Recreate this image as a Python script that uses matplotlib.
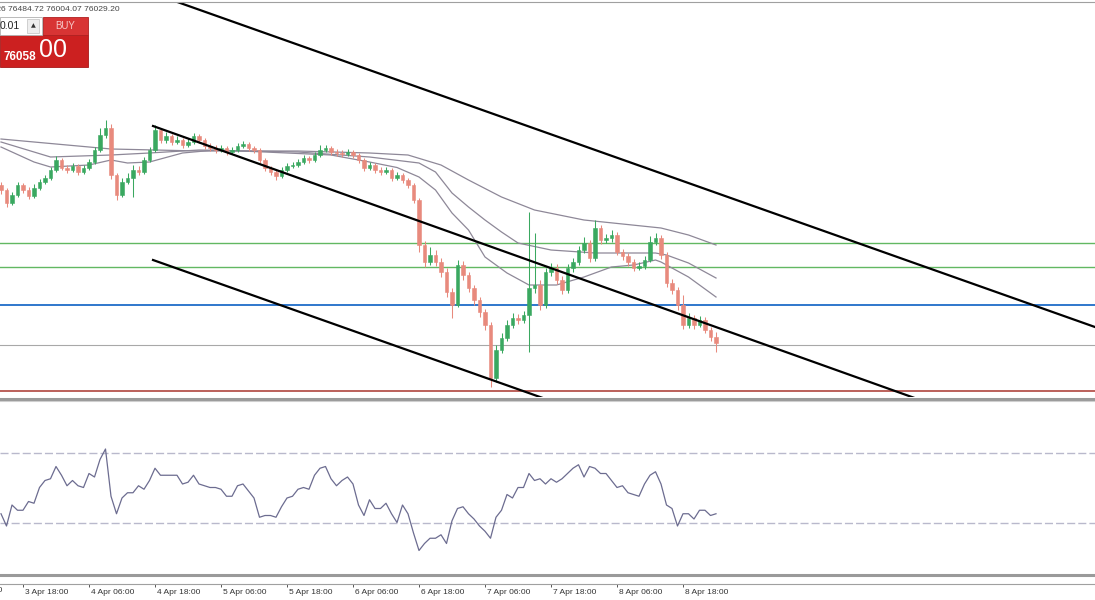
import matplotlib.pyplot as plt
import matplotlib.transforms as mtransforms
from matplotlib.patches import Rectangle
from matplotlib.lines import Line2D

plt.rcParams['font.family'] = ['Liberation Sans', 'DejaVu Sans']

# BTCUSD H1 bars, 3 Apr 14:00 -> 9 Apr 00:00 (bar index 0..130)
opens = [82350, 82150, 81630, 81950, 82350, 82150, 81910, 82230, 82470, 82630,
         82950, 83350, 83030, 82950, 83110, 82870, 83030, 83270, 83750, 84350,
         84630, 82750, 81950, 82470, 82630, 82950, 82870, 83350, 83750, 84550,
         84150, 84310, 84070, 84150, 83950, 84070, 84310, 84150, 83910, 83830,
         83750, 83830, 83670, 83750, 83910, 83990, 83830, 83750, 83350, 83030,
         82870, 82710, 82950, 83110, 83150, 83270, 83430, 83350, 83550, 83750,
         83830, 83670, 83630, 83590, 83670, 83550, 83350, 83030, 83150, 82950,
         82870, 82950, 82630, 82750, 82550, 82350, 81750, 79950, 79270, 79550,
         79270, 78870, 78070, 77550, 79150, 78750, 78230, 77750, 77270, 76750,
         74630, 75750, 76230, 76750, 77030, 76950, 77150, 78230, 78350, 77550,
         78870, 79030, 78550, 78150, 79030, 79270, 79750, 80030, 79430, 80630,
         80150, 80230, 80350, 79670, 79510, 79270, 79030, 79110, 79350, 80070,
         80230, 79550, 78430, 78150, 77550, 76750, 77030, 76750, 76950, 76550,
         76270]
closes = [82150, 81630, 81950, 82350, 82150, 81910, 82230, 82470, 82630, 82950,
          83350, 83030, 82950, 83110, 82870, 83030, 83270, 83750, 84350, 84630,
          82750, 81950, 82470, 82630, 82950, 82870, 83350, 83750, 84550, 84150,
          84310, 84070, 84150, 83950, 84070, 84310, 84150, 83910, 83830, 83750,
          83830, 83670, 83750, 83910, 83990, 83830, 83750, 83350, 83030, 82870,
          82710, 82950, 83110, 83150, 83270, 83430, 83350, 83550, 83750, 83830,
          83670, 83630, 83590, 83670, 83550, 83350, 83030, 83150, 82950, 82870,
          82950, 82630, 82750, 82550, 82350, 81750, 79950, 79270, 79550, 79270,
          78870, 78070, 77550, 79150, 78750, 78230, 77750, 77270, 76750, 74630,
          75750, 76230, 76750, 77030, 76950, 77150, 78230, 78350, 77550, 78870,
          79030, 78550, 78150, 79030, 79270, 79750, 80030, 79430, 80630, 80150,
          80230, 80350, 79670, 79510, 79270, 79030, 79110, 79350, 80070, 80230,
          79550, 78430, 78150, 77550, 76750, 77030, 76750, 76950, 76550, 76270,
          76030]
highs = [82470, 82230, 82070, 82470, 82430, 82270, 82390, 82590, 82750, 83070,
         83510, 83430, 83150, 83230, 83190, 83150, 83390, 83870, 84630, 84950,
         84790, 82830, 82630, 82830, 83150, 83110, 83470, 83870, 84750, 84630,
         84470, 84390, 84310, 84230, 84230, 84430, 84390, 84230, 84030, 83950,
         83950, 83910, 83870, 84030, 84110, 84070, 83910, 83830, 83430, 83110,
         82950, 83070, 83230, 83270, 83390, 83550, 83510, 83670, 83950, 83950,
         83910, 83790, 83750, 83790, 83750, 83630, 83430, 83270, 83230, 83070,
         83070, 83030, 82870, 82830, 82630, 82430, 81830, 80110, 79870, 79750,
         79430, 79030, 78230, 79350, 79310, 78870, 78350, 77870, 77390, 76870,
         75950, 76430, 76950, 77230, 77190, 77310, 81270, 80430, 78550, 79030,
         79230, 79190, 78710, 79190, 79430, 79910, 80270, 80150, 80950, 80750,
         80390, 80550, 80470, 79790, 79630, 79390, 79270, 79510, 80310, 80430,
         80350, 79670, 78590, 78270, 77950, 77230, 77150, 77110, 77070, 76670,
         76480]
lows = [81990, 81470, 81550, 81870, 82030, 81790, 81830, 82150, 82390, 82550,
        82870, 82950, 82830, 82870, 82750, 82790, 82950, 83190, 83670, 84230,
        82590, 81750, 81870, 82390, 81870, 82750, 82790, 83270, 83670, 84030,
        84030, 83950, 83990, 83830, 83870, 83990, 84030, 83790, 83710, 83630,
        83670, 83550, 83590, 83670, 83830, 83710, 83630, 83230, 82910, 82750,
        82550, 82630, 82870, 83030, 83070, 83190, 83230, 83270, 83470, 83670,
        83550, 83510, 83470, 83510, 83430, 83230, 82910, 82950, 82830, 82750,
        82790, 82510, 82550, 82430, 82230, 81630, 79670, 79070, 79150, 79110,
        78670, 77870, 77030, 77470, 78550, 78070, 77550, 77070, 76550, 74270,
        74470, 75630, 76110, 76630, 76790, 76830, 75670, 78030, 77350, 77430,
        78710, 78390, 77990, 78030, 78870, 79150, 79630, 79270, 79310, 79990,
        80030, 80070, 79550, 79350, 79110, 78910, 78950, 78990, 79270, 79950,
        79390, 78270, 77990, 77350, 76590, 76630, 76590, 76670, 76430, 76110,
        75670]

# moving averages, read at selected bars
ma_fast_bars = [0, 6, 9, 16, 20, 23, 27, 33, 39, 48, 60, 67, 72, 76, 79, 82, 85, 88, 92, 96,
                101, 106, 111, 115, 119, 120, 125, 130]
ma_fast = [83870, 83270, 83070, 83150, 83350, 83230, 83270, 83630, 83750, 83670, 83550, 83270,
           83050, 82670, 82150, 81230, 80550, 79470, 78830, 78350, 78350, 78670, 79070, 79150,
           79350, 79270, 78670, 77870]
ma_mid_bars = [0, 9, 20, 27, 36, 54, 67, 76, 79, 82, 85, 88, 91, 94, 100, 108, 115, 119, 121, 125, 130]
ma_mid = [84070, 83470, 83550, 83630, 83750, 83670, 83470, 83230, 82870, 82030, 81470, 80950,
          80470, 80030, 79750, 79630, 79630, 79630, 79550, 79230, 78630]
ma_slow_bars = [0, 20, 36, 54, 67, 74, 80, 85, 91, 97, 106, 120, 125, 130]
ma_slow = [84190, 83790, 83710, 83710, 83630, 83550, 83150, 82550, 81870, 81350, 80950, 80630, 80350, 79950]

# RSI per bar
rsi = [35, 28, 40, 37, 37, 42, 41, 50, 54, 55,
       62, 57, 51, 54, 51, 50, 58, 56, 66, 72,
       45, 35, 44, 47, 47, 51, 49, 54, 61, 57,
       57, 57, 57, 52, 53, 57, 52, 51, 50, 50,
       49, 45, 45, 51, 52, 48, 44, 33, 34, 34,
       33, 39, 44, 45, 49, 50, 49, 57, 61, 62,
       55, 51, 54, 56, 52, 40, 34, 43, 38, 38,
       41, 35, 30, 40, 35, 24, 14, 18, 21, 21,
       23, 18, 31, 38, 39, 35, 32, 28, 25, 21,
       33, 37, 46, 44, 50, 50, 58, 54, 55, 52,
       55, 53, 55, 58, 61, 63, 56, 62, 61, 58,
       58, 54, 50, 51, 47, 46, 45, 52, 57, 59,
       52, 40, 38, 28, 35, 35, 32, 37, 37, 34,
       35]
rsi_levels = [70, 30]

# horizontal price levels
level_prices = [80030, 79070, 77550, 75950, 74110]
level_colors = ['#62b862', '#62b862', '#1f6cc8', '#a8a8a8', '#a8362e']
level_widths = [1.0, 1.0, 1.3, 0.8, 1.1]

# trend lines: (bar, price) anchor pairs, drawn as rays from the first anchor
trend_lines = [((20.0, 90610), (198.9, 76670)),
               ((27.64, 84710), (165.6, 73870)),
               ((27.64, 79350), (98.0, 73870))]

tick_bars = [4, 16, 28, 40, 52, 64, 76, 88, 100, 112, 124]
tick_labels = ['3 Apr 18:00', '4 Apr 06:00', '4 Apr 18:00', '5 Apr 06:00', '5 Apr 18:00',
               '6 Apr 06:00', '6 Apr 18:00', '7 Apr 06:00', '7 Apr 18:00', '8 Apr 06:00',
               '8 Apr 18:00']

W, H = 1095, 600
fig = plt.figure(figsize=(W / 100, H / 100), dpi=100)
fig.patch.set_facecolor('white')
px = mtransforms.Affine2D().scale(1 / W, -1 / H).translate(0, 1) + fig.transFigure

xlim = (-1 / 5.5, 1094 / 5.5)

# main price window
ax = fig.add_axes([0, 1 - 397 / H, 1, 395 / H])
ax.set_xlim(*xlim)
ax.set_ylim(73870, 89670)
ax.axis('off')

for p, c, lw in zip(level_prices, level_colors, level_widths):
    ax.axhline(p, color=c, lw=lw, zorder=1)

bars = range(len(closes))
up_col, dn_col = '#3aa860', '#e88a7d'
cols = [up_col if c >= o else dn_col for o, c in zip(opens, closes)]
ax.vlines(bars, lows, highs, colors=cols, lw=0.75, zorder=3)
ax.bar(bars, [abs(c - o) for o, c in zip(opens, closes)],
       bottom=[min(o, c) for o, c in zip(opens, closes)],
       width=0.55, color=cols, edgecolor=cols, lw=0.4, zorder=4)

for b, v in [(ma_fast_bars, ma_fast), (ma_mid_bars, ma_mid), (ma_slow_bars, ma_slow)]:
    ax.plot(b, v, color='#8e8898', lw=0.9, zorder=2)

for (x1, y1), (x2, y2) in trend_lines:
    k = (y2 - y1) / (x2 - x1)
    ax.plot([x1, 230], [y1, y1 + k * (230 - x1)], color='black', lw=1.6, zorder=5)

# RSI window
ax2 = fig.add_axes([0, 1 - 575 / H, 1, 175 / H])
ax2.set_xlim(*xlim)
ax2.set_ylim(0, 100)
for lv in rsi_levels:
    ax2.axhline(lv, color='#b9b9cc', lw=1.0, dashes=(5.8, 2.2))
ax2.plot(bars, rsi, color='#6c6c90', lw=0.9)
for s in ['top', 'left', 'right']:
    ax2.spines[s].set_visible(False)
ax2.spines['bottom'].set_position(('outward', 6.2))
ax2.spines['bottom'].set_color('#a0a0a0')
ax2.spines['bottom'].set_linewidth(0.8)
ax2.set_yticks([])
ax2.set_xticks(tick_bars)
ax2.set_xticklabels(tick_labels)
ax2.tick_params(axis='x', direction='out', length=2.4, width=0.7, color='#555555',
                pad=1.2, labelsize=6, labelcolor='#333333')
shift = mtransforms.ScaledTranslation(2 / 100, 0, fig.dpi_scale_trans)
for lab in ax2.get_xticklabels():
    lab.set_horizontalalignment('left')
    lab.set_transform(lab.get_transform() + shift)
# the label of 3 Apr 06:00 sits mostly off the left edge
ax2.text(-8, 587, '3 Apr 06:00', fontsize=6, color='#333333', ha='left', va='top',
         transform=mtransforms.blended_transform_factory(ax2.transData, px) + shift, clip_on=False)

# window borders
fig.add_artist(Line2D([0, W], [1.5, 1.5], transform=px, color='#a0a0a0', lw=0.8))
fig.add_artist(Line2D([0, W], [398.5, 398.5], transform=px, color='#9a9a9a', lw=2.2))
fig.add_artist(Line2D([0, W], [401, 401], transform=px, color='#cfcfcf', lw=0.8))
fig.add_artist(Line2D([0, W], [575, 575], transform=px, color='#9a9a9a', lw=2.2))

# header and one-click trading panel
fig.text(120, 9, 'BTCUSD,H1  76270.26 76484.72 76004.07 76029.20', transform=px,
         fontsize=6.1, color='#444444', ha='right', va='center')
fig.add_artist(Rectangle((0, 35), 88, 32, transform=px, facecolor='#cc2020', edgecolor='#a81818', lw=0.6))
fig.add_artist(Rectangle((43, 17), 45, 18, transform=px, facecolor='#d83434', edgecolor='#b02020', lw=0.6))
fig.add_artist(Rectangle((0, 17), 42, 18, transform=px, facecolor='white', edgecolor='#b0b0b0', lw=0.6))
fig.add_artist(Rectangle((27, 19), 12, 14, transform=px, facecolor='#eeeeee', edgecolor='#c0c0c0', lw=0.5))
fig.text(0, 26, '0.01', transform=px, fontsize=7.5, color='#222222', ha='left', va='center')
fig.text(33, 26, '▲', transform=px, fontsize=4.5, color='#333333', ha='center', va='center',
         family=['DejaVu Sans'])
fig.text(65.5, 26, 'BUY', transform=px, fontsize=7, color='#f6c8c8', ha='center', va='center')
fig.text(20, 57, '76058', transform=px, fontsize=8.5, color='white', ha='center', va='center',
         fontweight='bold')
fig.text(53, 50, '00', transform=px, fontsize=18, color='white', ha='center', va='center')

fig.savefig('out.png', dpi=100)
